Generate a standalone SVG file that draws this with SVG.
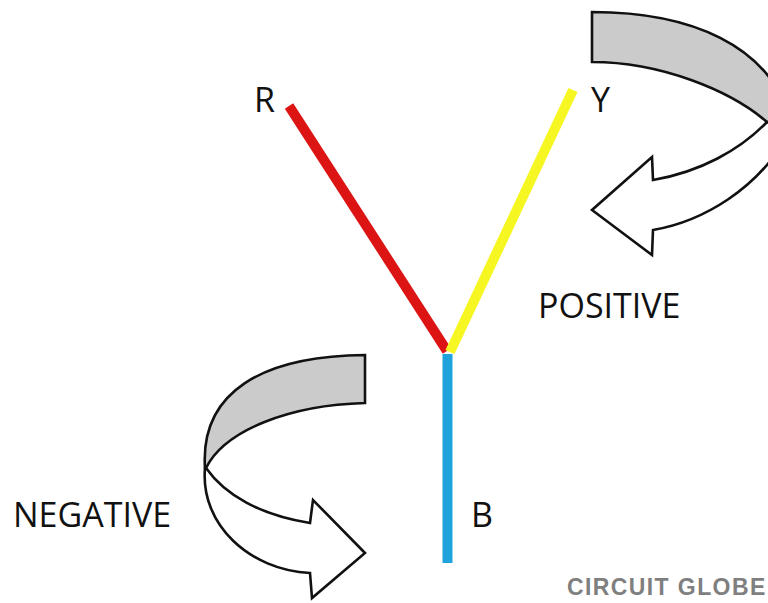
<svg xmlns="http://www.w3.org/2000/svg" width="768" height="603" viewBox="0 0 768 603">
<style>
.lbl{font-family:"Open Sans","Liberation Sans",sans-serif;font-size:34px;fill:#111}
.band{fill:#cbcbcb;stroke:#111;stroke-width:2.6;stroke-linejoin:miter}
.face{fill:#fff;stroke:#111;stroke-width:2.6;stroke-linejoin:miter}
.wire{stroke-width:10;stroke-linecap:butt;fill:none}
.brand{font-family:"Liberation Sans",Arial,sans-serif;font-weight:bold;font-size:23px;fill:#7f7f7f;letter-spacing:1.4px}
</style>
<rect width="768" height="603" fill="#fff"/>
<g id="connectors">
<line class="wire" x1="289" y1="106" x2="447" y2="351" stroke="#dd1414"/>
<line class="wire" x1="573" y1="90" x2="450" y2="352" stroke="#f6f622"/>
<line class="wire" x1="447.5" y1="354" x2="447.5" y2="563" stroke="#1ea3dc"/>
</g>
<g id="arrow-positive">
<path class="face" d="M767,122 C740,150 700,172 653,180 L652,157 L592,210 L652,255 L653,230 C700,222 760,190 790,130 L767,122 Z"/>
<path class="band" d="M592,12 C690,12 770,45 790,120 L767,122 C730,90 660,62 592,62 Z"/>
</g>
<g id="arrow-negative">
<path class="face" d="M206,468 C225,495 260,515 310,523 L313,500 L365,553 L312,598 L310,573 C250,570 200,525 205,468 Z"/>
<path class="band" d="M365,355 C262,356 200,392 205,468 L206,468 C225,430 290,405 365,403 Z"/>
</g>
<g id="label-R"><text class="lbl" x="254" y="112">R</text></g>
<g id="label-Y"><text class="lbl" x="591" y="112">Y</text></g>
<g id="label-B"><text class="lbl" x="471" y="527">B</text></g>
<g id="label-positive"><text class="lbl" x="538" y="318">POSITIVE</text></g>
<g id="label-negative"><text class="lbl" x="13" y="527">NEGATIVE</text></g>
<g id="brand"><text class="brand" x="567" y="595">CIRCUIT GLOBE</text></g>
</svg>
